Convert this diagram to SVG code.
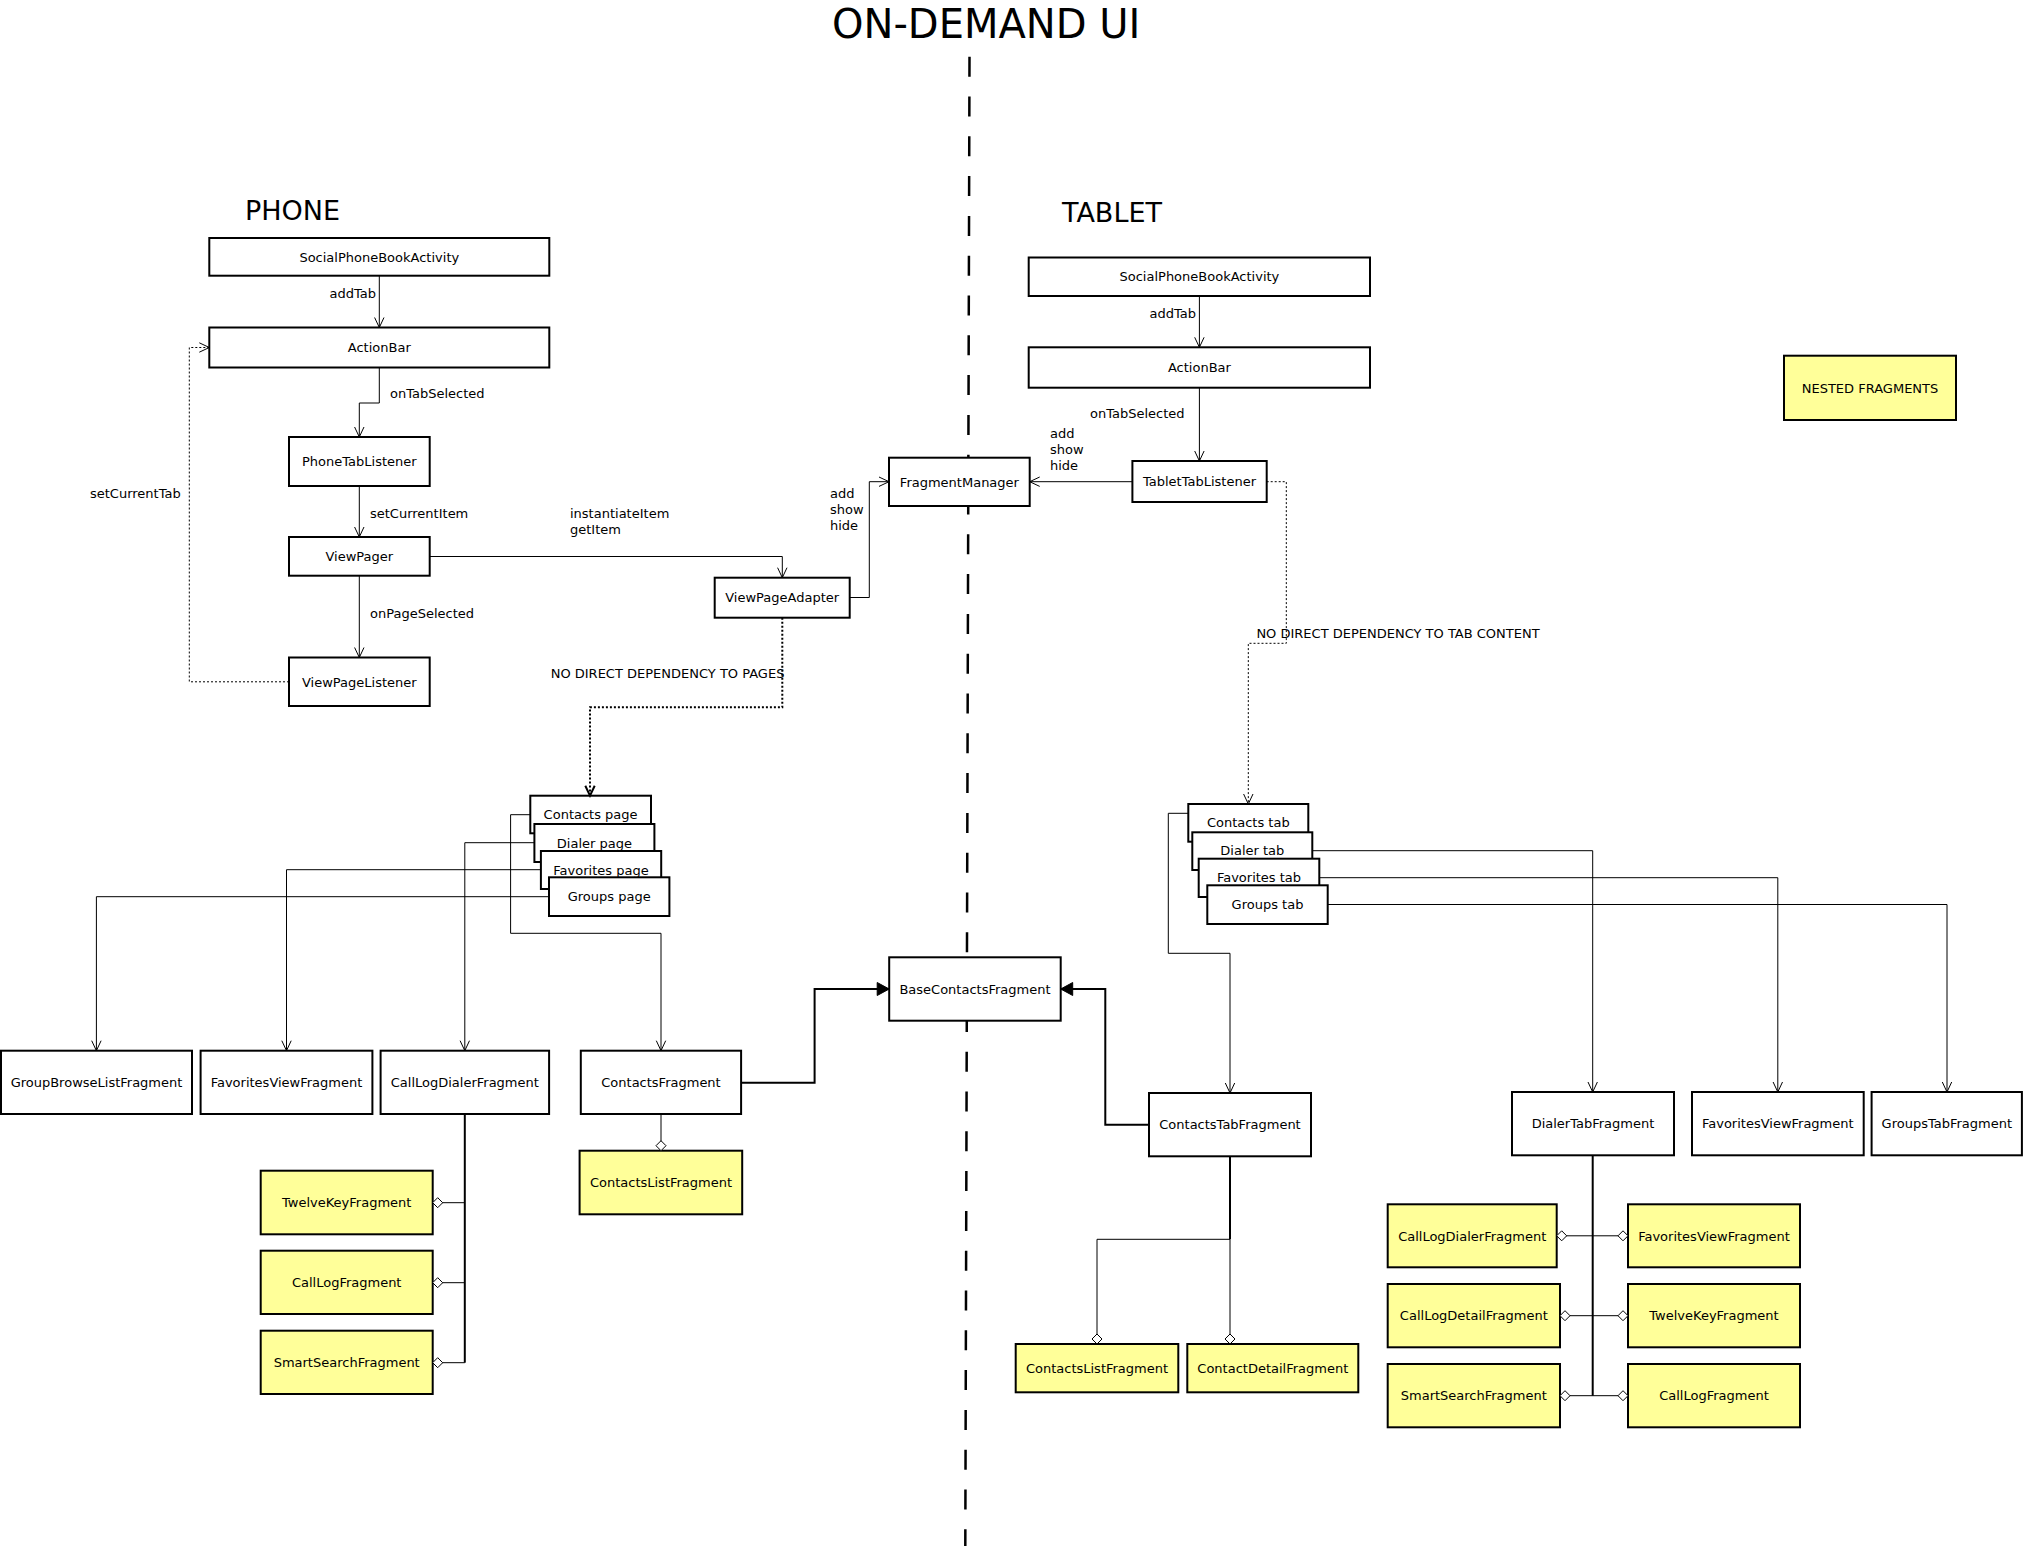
<svg xmlns="http://www.w3.org/2000/svg" width="2023" height="1546" viewBox="0 0 2023 1546">
<defs>
<style>
text { font-family: "DejaVu Sans", "Liberation Sans", sans-serif; fill: #000; }
.t { font-size: 13px; text-anchor: middle; }
.l { font-size: 13px; }
.le { font-size: 13px; text-anchor: end; }
.big { font-size: 27px; }
.title { font-size: 40px; }
.box { fill: #fff; stroke: #000; stroke-width: 2; }
.ybox { fill: #ffff99; stroke: #000; stroke-width: 2; }
.c { fill: none; stroke: #000; stroke-width: 1; }
.c2 { fill: none; stroke: #000; stroke-width: 2; }
.dot { fill: none; stroke: #000; stroke-width: 1; stroke-dasharray: 2 2; }
.dot2 { fill: none; stroke: #000; stroke-width: 2; stroke-dasharray: 2 2; }
.divider { fill: none; stroke: #000; stroke-width: 2.5; stroke-dasharray: 20 19.8; }
.arr { marker-end: url(#open); }
.arrb { marker-end: url(#openb); }
.fil { marker-end: url(#filled); }
.dia { marker-end: url(#diamond); }
.dia2 { marker-start: url(#diamond); marker-end: url(#diamond); }
</style>
<marker id="open" markerUnits="userSpaceOnUse" markerWidth="14" markerHeight="14" refX="11" refY="7" orient="auto" overflow="visible">
<path d="M1,2.3 L11,7 L1,11.7" fill="none" stroke="#000" stroke-width="1"/>
</marker>
<marker id="openb" markerUnits="userSpaceOnUse" markerWidth="14" markerHeight="14" refX="11" refY="7" orient="auto" overflow="visible">
<path d="M1,2.3 L11,7 L1,11.7" fill="none" stroke="#000" stroke-width="2"/>
</marker>
<marker id="filled" markerUnits="userSpaceOnUse" markerWidth="14" markerHeight="16" refX="12" refY="7" orient="auto" overflow="visible">
<path d="M0,0.5 L12,7 L0,13.5 Z" fill="#000" stroke="#000" stroke-width="1"/>
</marker>
<marker id="diamond" markerUnits="userSpaceOnUse" markerWidth="12" markerHeight="12" refX="10" refY="5" orient="auto-start-reverse" overflow="visible">
<path d="M0,5 L5,0 L10,5 L5,10 Z" fill="#fff" stroke="#000" stroke-width="1"/>
</marker>
</defs>
<rect x="0" y="0" width="2023" height="1546" fill="#fff"/>

<g id="labels">
<text class="title" x="832" y="38">ON-DEMAND UI</text>
<text class="big" x="245" y="220">PHONE</text>
<text class="big" x="1062" y="222">TABLET</text>
</g>

<g id="divider">
<line class="divider" x1="969.5" y1="56.7" x2="965.3" y2="1546"/>
</g>

<g id="phone-activity"><rect class="box" x="209.3" y="238" width="340" height="37.7"/><text class="t" x="379.3" y="261.5">SocialPhoneBookActivity</text></g>
<g id="phone-actionbar"><rect class="box" x="209.3" y="327.5" width="340" height="40"/><text class="t" x="379.3" y="352.2">ActionBar</text></g>
<g id="phone-tablistener"><rect class="box" x="289" y="437" width="140.7" height="49"/><text class="t" x="359.3" y="466.2">PhoneTabListener</text></g>
<g id="viewpager"><rect class="box" x="289" y="537" width="140.7" height="38.7"/><text class="t" x="359.3" y="561">ViewPager</text></g>
<g id="viewpagelistener"><rect class="box" x="289" y="657.5" width="140.7" height="48.5"/><text class="t" x="359.3" y="686.5">ViewPageListener</text></g>
<g id="viewpageadapter"><rect class="box" x="714.7" y="577.7" width="135" height="40"/><text class="t" x="782.2" y="602.4">ViewPageAdapter</text></g>
<g id="fragmentmanager"><rect class="box" x="889" y="457.7" width="140.7" height="48.3"/><text class="t" x="959.4" y="486.5">FragmentManager</text></g>

<g id="contacts-page"><rect class="box" x="530.3" y="795.7" width="120.7" height="37.6"/><text class="t" x="590.6" y="819.2">Contacts page</text></g>
<g id="dialer-page"><rect class="box" x="534.4" y="824" width="120" height="38"/><text class="t" x="594.4" y="847.5">Dialer page</text></g>
<g id="favorites-page"><rect class="box" x="540.9" y="851" width="120.3" height="38"/><text class="t" x="601" y="874.5">Favorites page</text></g>
<g id="groups-page"><rect class="box" x="549" y="877.3" width="120.4" height="38.7"/><text class="t" x="609.2" y="901.3">Groups page</text></g>

<g id="phone-groupbrowselist"><rect class="box" x="1" y="1050.7" width="191" height="63.3"/><text class="t" x="96.5" y="1087">GroupBrowseListFragment</text></g>
<g id="phone-favoritesview"><rect class="box" x="200.6" y="1050.7" width="171.8" height="63.3"/><text class="t" x="286.5" y="1087">FavoritesViewFragment</text></g>
<g id="phone-calllogdialer"><rect class="box" x="380.6" y="1050.7" width="168.5" height="63.3"/><text class="t" x="464.8" y="1087">CallLogDialerFragment</text></g>
<g id="phone-contacts"><rect class="box" x="580.8" y="1050.7" width="160.3" height="63.3"/><text class="t" x="661" y="1087">ContactsFragment</text></g>
<g id="basecontacts"><rect class="box" x="889.2" y="957.3" width="171.5" height="63.4"/><text class="t" x="975" y="993.7">BaseContactsFragment</text></g>
<g id="phone-contactslist"><rect class="ybox" x="579.6" y="1150.7" width="162.6" height="63.6"/><text class="t" x="661" y="1187.2">ContactsListFragment</text></g>
<g id="phone-twelvekey"><rect class="ybox" x="260.7" y="1170.7" width="172" height="63.6"/><text class="t" x="346.7" y="1207.2">TwelveKeyFragment</text></g>
<g id="phone-calllog"><rect class="ybox" x="260.7" y="1250.7" width="172" height="63.3"/><text class="t" x="346.7" y="1287.2">CallLogFragment</text></g>
<g id="phone-smartsearch"><rect class="ybox" x="260.7" y="1330.7" width="172" height="63.3"/><text class="t" x="346.7" y="1367.2">SmartSearchFragment</text></g>

<g id="tablet-activity"><rect class="box" x="1028.7" y="257.5" width="341.3" height="38.5"/><text class="t" x="1199.4" y="281.4">SocialPhoneBookActivity</text></g>
<g id="tablet-actionbar"><rect class="box" x="1028.7" y="347.3" width="341.3" height="40.4"/><text class="t" x="1199.4" y="372.2">ActionBar</text></g>
<g id="tablet-tablistener"><rect class="box" x="1132.4" y="461" width="134.3" height="41"/><text class="t" x="1199.5" y="486.2">TabletTabListener</text></g>
<g id="nested-legend"><rect class="ybox" x="1784" y="355.7" width="172" height="64.3"/><text class="t" x="1870" y="392.5">NESTED FRAGMENTS</text></g>

<g id="contacts-tab"><rect class="box" x="1188.3" y="804" width="120" height="37.7"/><text class="t" x="1248.3" y="827.4">Contacts tab</text></g>
<g id="dialer-tab"><rect class="box" x="1192.3" y="832.3" width="120" height="37.7"/><text class="t" x="1252.3" y="855.4">Dialer tab</text></g>
<g id="favorites-tab"><rect class="box" x="1198.7" y="858.7" width="120.6" height="38.3"/><text class="t" x="1259" y="882.4">Favorites tab</text></g>
<g id="groups-tab"><rect class="box" x="1207.3" y="885.3" width="120.4" height="38.7"/><text class="t" x="1267.5" y="909.4">Groups tab</text></g>

<g id="tablet-contactstab"><rect class="box" x="1149" y="1093" width="162" height="63.3"/><text class="t" x="1230" y="1129.4">ContactsTabFragment</text></g>
<g id="tablet-dialertab"><rect class="box" x="1512" y="1092" width="162" height="63.3"/><text class="t" x="1593" y="1128.4">DialerTabFragment</text></g>
<g id="tablet-favoritesview"><rect class="box" x="1692" y="1092" width="171.7" height="63.3"/><text class="t" x="1777.8" y="1128.4">FavoritesViewFragment</text></g>
<g id="tablet-groupstab"><rect class="box" x="1871.6" y="1092" width="150.3" height="63.3"/><text class="t" x="1946.8" y="1128.4">GroupsTabFragment</text></g>
<g id="tablet-contactslist"><rect class="ybox" x="1015.7" y="1344" width="162.6" height="48.3"/><text class="t" x="1097" y="1372.7">ContactsListFragment</text></g>
<g id="tablet-contactdetail"><rect class="ybox" x="1187.3" y="1344" width="171" height="48.3"/><text class="t" x="1272.8" y="1372.7">ContactDetailFragment</text></g>
<g id="tablet-calllogdialer"><rect class="ybox" x="1387.7" y="1204.3" width="169" height="63"/><text class="t" x="1472.2" y="1240.5">CallLogDialerFragment</text></g>
<g id="tablet-favoritesview-nested"><rect class="ybox" x="1628" y="1204.3" width="172" height="63"/><text class="t" x="1714" y="1240.5">FavoritesViewFragment</text></g>
<g id="tablet-calllogdetail"><rect class="ybox" x="1387.7" y="1284" width="172.3" height="63.3"/><text class="t" x="1473.8" y="1320.4">CallLogDetailFragment</text></g>
<g id="tablet-twelvekey"><rect class="ybox" x="1628" y="1284" width="172" height="63.3"/><text class="t" x="1714" y="1320.4">TwelveKeyFragment</text></g>
<g id="tablet-smartsearch"><rect class="ybox" x="1387.7" y="1364" width="172.3" height="63.3"/><text class="t" x="1473.8" y="1400.4">SmartSearchFragment</text></g>
<g id="tablet-calllog"><rect class="ybox" x="1628" y="1364" width="172" height="63.3"/><text class="t" x="1714" y="1400.4">CallLogFragment</text></g>

<g id="connectors">
<path class="c arr" d="M379.3,275.7 V327.5"/>
<path class="c arr" d="M379.3,367.5 V403 H359.3 V437"/>
<path class="c arr" d="M359.3,486 V537"/>
<path class="c arr" d="M359.3,575.7 V657.5"/>
<path class="dot arr" d="M289,681.8 H189.3 V347.5 H209.3"/>
<path class="c arr" d="M429.7,556.5 H782.3 V577.7"/>
<path class="c arr" d="M849.7,597.5 H869.3 V481.7 H889"/>
<path class="dot2 arrb" d="M782.3,617.7 V707.3 H590 V795.7"/>
<path class="c arr" d="M530.3,814.7 H510.6 V933.3 H661 V1050.7"/>
<path class="c arr" d="M534.4,842.7 H464.8 V1050.7"/>
<path class="c arr" d="M540.9,869.7 H286.5 V1050.7"/>
<path class="c arr" d="M549,896.7 H96.4 V1050.7"/>
<path class="c2 fil" d="M741.1,1082.7 H814.6 V989 H889.2"/>
<path class="c dia" d="M661,1114 V1150.7"/>
<path class="c2" d="M464.8,1114 V1362.7"/>
<path class="c dia" d="M464.8,1202.7 H432.7"/>
<path class="c dia" d="M464.8,1282.7 H432.7"/>
<path class="c dia" d="M464.8,1362.7 H432.7"/>

<path class="c arr" d="M1199.4,296 V347.3"/>
<path class="c arr" d="M1199.4,387.7 V461"/>
<path class="c arr" d="M1132.4,481.7 H1029.7"/>
<path class="dot arr" d="M1266.7,481.7 H1286.3 V643.3 H1248.3 V804"/>
<path class="c arr" d="M1188.3,813.3 H1168.3 V953.3 H1230 V1093"/>
<path class="c arr" d="M1312.3,850.7 H1592.7 V1092"/>
<path class="c arr" d="M1319.3,877.7 H1777.8 V1092"/>
<path class="c arr" d="M1327.7,904.5 H1947 V1092"/>
<path class="c2 fil" d="M1149,1124.7 H1105.3 V989 H1060.7"/>
<path class="c2" d="M1230,1156.3 V1239.3"/>
<path class="c dia" d="M1230,1239.3 H1097 V1344"/>
<path class="c dia" d="M1230,1239.3 V1344"/>
<path class="c2" d="M1592.7,1155.3 V1395.7"/>
<path class="c dia2" d="M1556.7,1235.8 H1628"/>
<path class="c dia2" d="M1560,1315.7 H1628"/>
<path class="c dia2" d="M1560,1395.7 H1628"/>
</g>

<g id="edge-labels">
<text class="le" x="376" y="298">addTab</text>
<text class="l" x="390" y="398">onTabSelected</text>
<text class="l" x="370" y="518">setCurrentItem</text>
<text class="l" x="370" y="618">onPageSelected</text>
<text class="l" x="90" y="497.5">setCurrentTab</text>
<text class="l" x="570" y="517.5">instantiateItem</text>
<text class="l" x="570" y="533.5">getItem</text>
<text class="l" x="830" y="497.5">add</text>
<text class="l" x="830" y="513.5">show</text>
<text class="l" x="830" y="529.5">hide</text>
<text class="l" x="550.7" y="678">NO DIRECT DEPENDENCY TO PAGES</text>
<text class="le" x="1196" y="317.5">addTab</text>
<text class="l" x="1090" y="417.5">onTabSelected</text>
<text class="l" x="1050" y="437.5">add</text>
<text class="l" x="1050" y="453.5">show</text>
<text class="l" x="1050" y="469.5">hide</text>
<text class="l" x="1256.4" y="638">NO DIRECT DEPENDENCY TO TAB CONTENT</text>
</g>
</svg>
